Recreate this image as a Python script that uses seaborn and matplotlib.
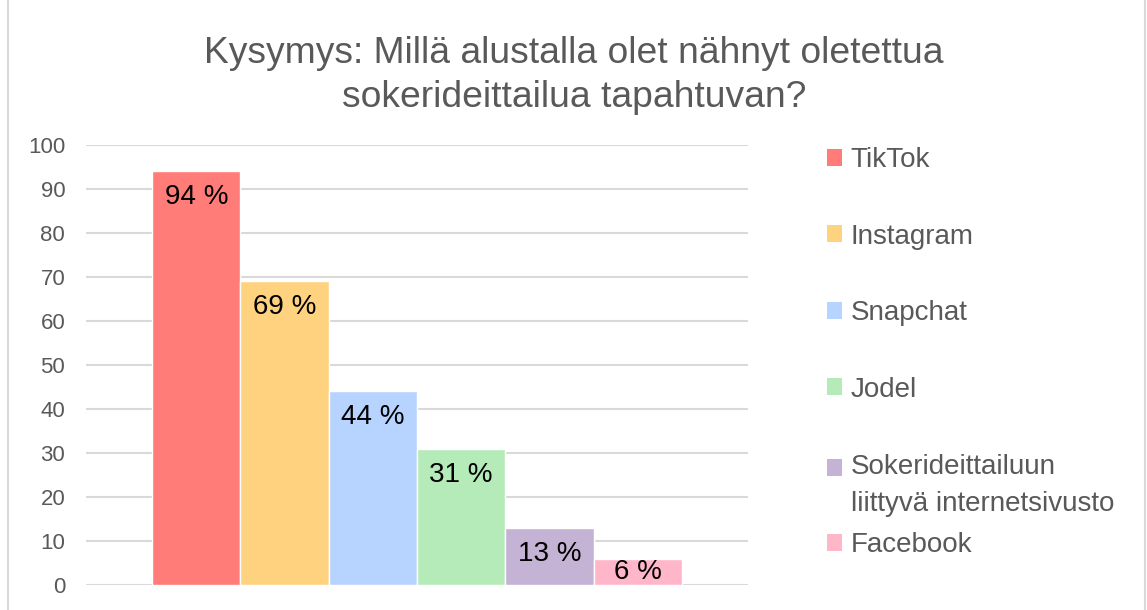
import matplotlib
matplotlib.use("Agg")
import matplotlib.pyplot as plt
from matplotlib.patches import Patch, Rectangle
from matplotlib.lines import Line2D
from matplotlib.legend_handler import HandlerPatch
import seaborn as sns
import pandas as pd

platforms = ["TikTok", "Instagram", "Snapchat", "Jodel",
             "Sokerideittailuun\nliittyvä internetsivusto", "Facebook"]
values = [94, 69, 44, 31, 13, 6]
value_labels = ["94 %", "69 %", "44 %", "31 %", "13 %", "6 %"]
colors = ["#FF7C78", "#FFD27F", "#B7D3FF", "#B5EAB9", "#C5B3D5", "#FFB6C9"]
title = "Kysymys: Millä alustalla olet nähnyt oletettua\nsokerideittailua tapahtuvan?"

sns.set_style("white")
plt.rcParams['font.family'] = ['Liberation Sans', 'DejaVu Sans']

df = pd.DataFrame({"group": [""] * len(platforms), "platform": platforms, "value": values})

W, H = 1147, 610
fig = plt.figure(figsize=(W / 100, H / 100), dpi=100)
ax = fig.add_axes([86 / W, 1 - 585 / H, (748 - 86) / W, (585 - 145) / H])

sns.barplot(data=df, x="group", y="value", hue="platform", hue_order=platforms,
            palette=colors, width=0.8, dodge=True, saturation=1, legend=False,
            ax=ax, zorder=3, errorbar=None)

ax.set_ylim(0, 100)
ax.set_xlim(-0.5, 0.5)
ax.set_yticks(range(0, 101, 10))
ax.yaxis.grid(True, color="#D9D9D9", linewidth=1.5, zorder=0)
ax.set_axisbelow(True)
for s in ax.spines.values():
    s.set_visible(False)
ax.set_xticks([])
ax.set_xlabel("")
ax.set_ylabel("")
ax.tick_params(axis="y", length=0, pad=15, labelsize=16, labelcolor="#595959")

# data labels inside bars
bars = [p for p in ax.patches if p.get_height() > 0]
bars = sorted(bars, key=lambda p: p.get_x())
for p, v, lab in zip(bars, values, value_labels):
    y = max(v - 5.9, 3.0)
    ax.text(p.get_x() + p.get_width() / 2, y, lab, ha="center", va="center",
            fontsize=20, color="black", zorder=5)

# title
fig.text(574 / W, 1 - 75.5 / H, title, ha="center", va="center", fontsize=26.8,
         color="#595959", linespacing=1.33)

# legends
handles = [Patch(facecolor=c, edgecolor="none") for c in colors]
leg_kw = dict(frameon=False, fontsize=20, handlelength=0.55, handleheight=0.55,
              handletextpad=0.3, borderpad=0, borderaxespad=0, labelcolor="#595959",
              loc="upper left")
leg1 = fig.legend(handles[:4], platforms[:4], bbox_to_anchor=(827 / W, 1 - 147 / H),
                  labelspacing=1.82, **leg_kw)


def top_aligned_patch(legend, orig_handle, xdescent, ydescent, width, height, fontsize):
    return Rectangle((-xdescent, -ydescent + 0.66 * fontsize), width, height)


leg2 = fig.legend(handles[4:], platforms[4:], bbox_to_anchor=(827 / W, 1 - 454 / H),
                  labelspacing=0.55,
                  handler_map={handles[4]: HandlerPatch(patch_func=top_aligned_patch)},
                  **leg_kw)
for t in leg2.get_texts():
    t.set_linespacing(1.55)

# outer frame lines
for xpx in (8, 1145):
    fig.add_artist(Line2D([xpx / W, xpx / W], [0, 1], color="#D9D9D9", linewidth=1.5,
                          transform=fig.transFigure))

fig.savefig("out.png", dpi=100)
